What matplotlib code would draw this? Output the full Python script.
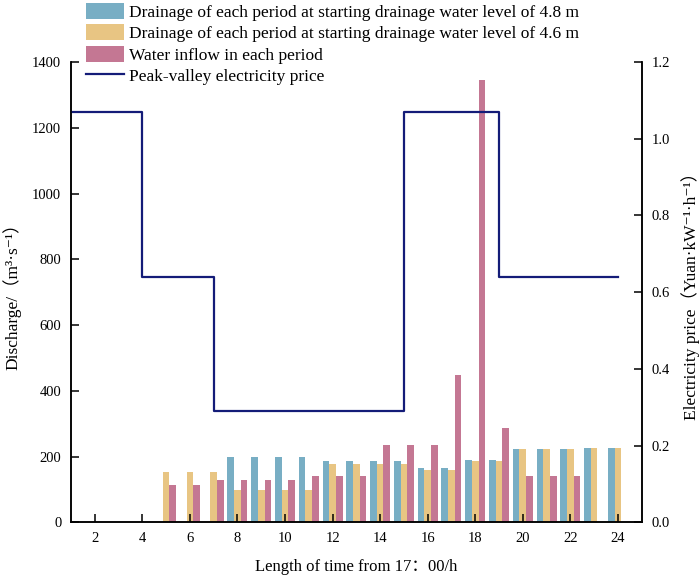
import matplotlib
matplotlib.use("Agg")
import matplotlib.pyplot as plt
import numpy as np

# ------------------------ data ------------------------
periods = list(range(1, 25))

drain_48 = [0, 0, 0, 0, 0, 0, 0, 200, 200, 200, 200, 186, 186, 186,
            186, 167, 167, 190, 190, 224, 224, 224, 227, 227]
drain_46 = [0, 0, 0, 0, 153, 153, 153, 98, 98, 98, 98, 179, 179, 179,
            179, 160, 160, 186, 186, 224, 224, 224, 227, 227]
inflow = [0, 0, 0, 0, 115, 115, 128, 128, 128, 128, 142, 142, 142, 235,
          235, 235, 447, 1345, 288, 142, 142, 142, 0, 0]

price_x = [1, 4, 7, 15, 19, 24]
price_y = [1.07, 0.64, 0.29, 1.07, 0.64, 0.64]

xticks = list(range(2, 25, 2))

# ------------------------ style ------------------------
serif = ['Liberation Serif', 'DejaVu Serif', 'Noto Sans CJK SC']
plt.rcParams['font.family'] = serif
plt.rcParams['font.size'] = 10

c_blue = '#78AEC4'
c_orange = '#E8C583'
c_pink = '#C47793'
c_line = '#141C78'

fig = plt.figure(figsize=(6.99, 5.83), dpi=100)
ax = fig.add_axes([0.1016, 0.1038, 0.8164, 0.79])
ax2 = ax.twinx()

x = np.array(periods)
w = 0.28
b1 = ax.bar(x - w, drain_48, w, color=c_blue, label="Drainage of each period at starting drainage water level of 4.8 m")
b2 = ax.bar(x, drain_46, w, color=c_orange, label="Drainage of each period at starting drainage water level of 4.6 m")
b3 = ax.bar(x + w, inflow, w, color=c_pink, label="Water inflow in each period")

ln, = ax2.plot(price_x, price_y, drawstyle='steps-post', color=c_line, lw=1.6,
               label="Peak-valley electricity price")

ax.set_xlim(1, 25)
ax.set_ylim(0, 1400)
ax.set_yticks(range(0, 1401, 200))
ax.set_xticks(xticks)
ax2.set_ylim(0, 1.2)
ax2.set_yticks(np.arange(0, 1.21, 0.2))
ax2.set_yticklabels([f"{v:.1f}" for v in np.arange(0, 1.21, 0.2)])

for a in (ax, ax2):
    a.spines['top'].set_visible(False)
    for s in ('left', 'right', 'bottom'):
        a.spines[s].set_linewidth(1.1)
    a.tick_params(direction='in', length=6, width=1.1, labelsize=10.5)
ax.tick_params(axis='x', pad=7)
ax.tick_params(axis='y', pad=7)
ax2.tick_params(axis='y', pad=7)

ax.set_ylabel("Discharge/（m³·s⁻¹）", fontsize=12.5, labelpad=8)
ax2.set_ylabel("Electricity price（Yuan·kW⁻¹·h⁻¹）", fontsize=12.5, labelpad=8)
ax.set_xlabel("Length of time from 17：00/h", fontsize=12, labelpad=10)

fig.legend(handles=[b1, b2, b3, ln], loc='upper left',
           bbox_to_anchor=(86 / 699, 1 - 3 / 583),
           frameon=False, fontsize=12.5, handlelength=2.2, handleheight=1.03,
           labelspacing=0.2, handletextpad=0.25, borderpad=0, borderaxespad=0)

fig.savefig("out.png", dpi=100)
